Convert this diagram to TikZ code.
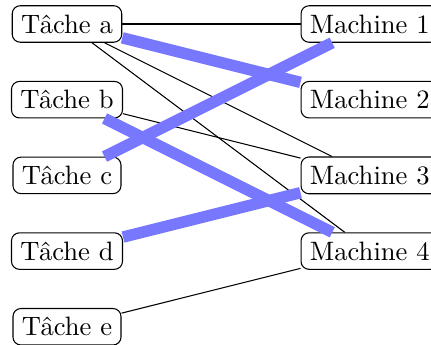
\documentclass[tikz,border=0pt]{standalone}
\usetikzlibrary{positioning}
\definecolor{thickblue}{RGB}{120,120,255}
\tikzset{
  box/.style={draw, rectangle, rounded corners=3pt},
  thin edge/.style={draw, black, line width=0.4pt},
  thick edge/.style={draw, thickblue, line width=4.3pt},
}
\begin{document}
\begin{tikzpicture}
\useasboundingbox (-0.885cm,0.317cm) rectangle (4.809cm,-4.24cm);
\node[box] (ta) at (0,0) {Tâche a};
\node[box] (tb) at (0,-1) {Tâche b};
\node[box] (tc) at (0,-2) {Tâche c};
\node[box] (td) at (0,-3) {Tâche d};
\node[box] (te) at (0,-4) {Tâche e};
\node[box] (m1) at (4,0) {Machine 1};
\node[box] (m2) at (4,-1) {Machine 2};
\node[box] (m3) at (4,-2) {Machine 3};
\node[box] (m4) at (4,-3) {Machine 4};
\path[thin edge] (ta) -- (m1);
\path[thin edge] (ta) -- (m3);
\path[thin edge] (ta) -- (m4);
\path[thin edge] (tb) -- (m3);
\path[thin edge] (te) -- (m4);
\path[thick edge] (ta) -- (m2);
\path[thick edge] (tb) -- (m4);
\path[thick edge] (tc) -- (m1);
\path[thick edge] (td) -- (m3);
\end{tikzpicture}
\end{document}
